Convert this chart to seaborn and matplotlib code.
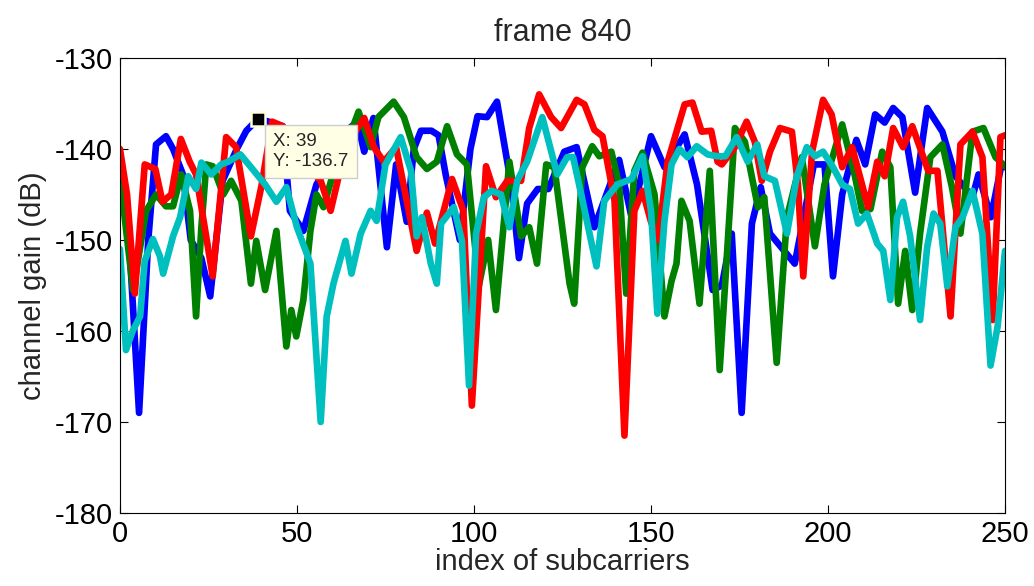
import matplotlib
matplotlib.use("Agg")
import matplotlib.pyplot as plt
import seaborn as sns
import pandas as pd

blue_x = [0, 2, 5.4, 8, 10.2, 13, 15, 17.8, 20, 23, 25.5, 29, 33, 35.7, 39, 42, 46, 48, 51.8, 55.5, 60, 64, 67, 69, 71.6, 75.4, 78, 81, 83, 85, 88, 90, 92, 96, 99, 101, 103.7, 106.5, 110.5, 112.7, 115, 118, 121, 125.5, 129, 134, 141, 144.5, 150, 153.8, 159.5, 163, 167.4, 170, 172.8, 175.6, 178.5, 181, 183.6, 190.6, 196, 199, 201.4, 204, 208, 210.5, 213.3, 216, 218.4, 221, 224.6, 228, 232.3, 236, 240.8, 242.5, 246, 249, 250]
blue_y = [-143, -146, -169, -150, -139.5, -138.6, -140, -142.8, -150, -152, -156.2, -143.5, -140, -138, -136.7, -137, -137.5, -146.8, -149, -143.9, -141, -138, -137, -140.3, -136.6, -150.8, -141.7, -148, -140, -138, -138, -138.5, -142.8, -150, -140, -136.4, -136.5, -134.8, -143.9, -152, -146, -144.4, -144.4, -140.3, -139.8, -148.6, -141.2, -147.5, -138.6, -142, -138.4, -143.9, -155.5, -155, -149.3, -169, -148.2, -144.2, -149.3, -152.6, -141.7, -141.7, -154, -145, -139, -141.7, -136.2, -137.1, -135.5, -136.5, -144.8, -135.5, -138.1, -143, -145.3, -142.8, -147.5, -141.7, -142]

green_x = [0, 3.7, 7.4, 10.2, 13, 15, 17.3, 19.8, 21.5, 23, 24.4, 26.2, 29.2, 31.4, 34.3, 37, 38.5, 41, 44.2, 47, 48.4, 49.8, 51.8, 53.8, 55.5, 57.5, 60, 62, 65, 67.4, 70.8, 73, 77.3, 80.2, 83.8, 86.7, 89.5, 92.4, 95.2, 98, 101.4, 104, 106.2, 110, 113.3, 115.6, 117.8, 120.4, 122.7, 127, 128.3, 130.6, 133.4, 135.4, 138.8, 141, 143, 145.3, 147.6, 151, 153.8, 155.8, 157.2, 158.6, 160.9, 163.7, 166.6, 169.4, 173.7, 176.5, 180.2, 182, 185.5, 188.4, 192.6, 196.3, 199, 204, 207.6, 209.6, 212, 215.3, 217.6, 219.8, 221.8, 223.8, 226, 228.9, 232.3, 235, 237.4, 240.8, 243.9, 247.3, 250]
green_y = [-143, -155.5, -146.8, -145, -146.3, -146.3, -142.8, -146.8, -158.4, -148.6, -141.7, -141.9, -145, -143.5, -145.7, -154.8, -150.1, -155.5, -149, -161.7, -157.7, -160.6, -156.6, -149, -145, -146.4, -143, -139, -138.4, -135.9, -139.8, -136.5, -134.8, -136.5, -140.9, -142.2, -141.4, -137.5, -140.6, -141.7, -155, -150, -157.7, -141.4, -149.6, -148.6, -152.6, -141.7, -142, -154.8, -157, -142, -139.7, -140.8, -140.3, -143.9, -155.9, -142.4, -140.4, -145, -158.4, -154.5, -152.6, -145.7, -147.9, -157, -142.4, -164.3, -137.7, -139.2, -146.4, -145.3, -163.5, -147.5, -140.9, -150.7, -143.9, -137.3, -143, -146.8, -146.6, -140.3, -142, -157, -151.2, -157.7, -149.3, -140.9, -139.5, -144.2, -149.3, -138.1, -137.7, -140.9, -141.9]

red_x = [0, 2, 4.2, 7, 10, 12, 14.5, 17.2, 19.7, 21.5, 26.2, 30, 32.8, 37, 40, 43, 46, 50, 53, 56.7, 59.5, 63, 66, 69, 71.7, 74.5, 78, 83.8, 86.7, 89, 93.8, 97, 99.4, 103.4, 106.2, 109.4, 113.3, 115.6, 118.4, 121.8, 124.6, 129, 131.2, 134, 136.3, 139.7, 142.5, 145.3, 147.6, 150, 152, 154.7, 159.5, 161.7, 164.3, 167, 168.8, 170, 173.7, 177, 179.3, 181.3, 183.6, 186.4, 189.8, 191.5, 193, 195.5, 198.6, 201, 204, 206.8, 211.3, 213.9, 216, 218.4, 221.2, 223.8, 228.3, 230.9, 234.6, 237.4, 240.8, 243.6, 246.5, 248.7, 250]
red_y = [-140, -145, -155.9, -141.7, -142.2, -145.8, -145, -138.9, -141.4, -142.8, -154, -138.7, -139.8, -149.6, -144, -137, -137.5, -140, -142, -143.5, -146.8, -141, -138.4, -136.6, -139.8, -141.4, -139.8, -151.2, -147, -150.4, -143.3, -146.8, -168.2, -141.9, -145.3, -143.5, -143.5, -137.7, -134, -136.5, -137.7, -134.6, -135.1, -137.9, -138.6, -145.7, -171.5, -146.8, -144.6, -148, -150, -141.4, -135.1, -134.9, -138.1, -138, -141.4, -141.7, -139.8, -137, -139.2, -143.5, -140.3, -137.7, -138.1, -143.9, -154, -140.3, -134.6, -136.2, -142, -139.8, -146.4, -141.4, -143, -137.7, -139.8, -137.5, -142.4, -142.4, -158.4, -139.5, -138.1, -140.9, -158.8, -138.7, -138.5]

cyan_x = [0, 1.7, 3.7, 5.7, 7, 9.3, 11.3, 12.2, 15, 17, 19.3, 21.5, 23, 25.8, 28.6, 30.6, 34, 37, 41, 44.2, 47, 50, 53.8, 56.7, 58.4, 60.3, 63.7, 65.4, 68, 70.8, 72.5, 75, 79.3, 82.2, 83.8, 85.3, 87.8, 89.5, 90.7, 94.3, 96.6, 98.6, 100.6, 102.8, 105, 107.6, 110, 112.2, 115, 119.3, 123.5, 126.3, 128, 130.3, 134.6, 136.8, 140.5, 144.5, 147.6, 150, 151.8, 153.8, 155.8, 158, 160.3, 162.9, 166, 168.8, 171, 174.2, 177.3, 180, 182, 185, 188.4, 191.2, 194, 196.3, 198.6, 201.4, 204, 206.2, 208.5, 211, 213.9, 215.6, 217.6, 219.5, 221.2, 223.2, 226, 228, 229.8, 231.7, 233.7, 236, 238, 240.8, 243.6, 245.9, 247.9, 250]
cyan_y = [-151, -162.1, -159.9, -158.4, -152.3, -149.9, -151.8, -153.7, -149.6, -147.5, -143, -144.4, -141.5, -142.8, -141.7, -141.4, -140.6, -142, -143.9, -145.8, -144.2, -148.6, -152.6, -170, -158.4, -154.8, -150.1, -153.7, -149.3, -146.8, -147.9, -141.7, -138.7, -142.4, -149.6, -147.5, -152.6, -154.8, -148.2, -146.4, -150.1, -166, -149.3, -145.3, -144.6, -145, -148.6, -143.5, -141.4, -136.5, -142.8, -140.9, -140.9, -145, -152.9, -145.7, -143.9, -143.3, -140.8, -146.8, -158.1, -147.9, -141.7, -140, -140.9, -139.7, -140.6, -140.8, -140.8, -138.7, -141.4, -139.5, -143, -143.5, -149.3, -143, -139.8, -140.8, -140.3, -142, -143.9, -144.4, -148.2, -147.1, -150.4, -151.2, -156.6, -147.5, -145.8, -149.6, -158.8, -150.8, -147.1, -148.2, -155.1, -148.6, -147.5, -144.6, -149.3, -163.8, -159.5, -151.2]

series_names = ["s1", "s2", "s3", "s4"]
series_colors = ["#0000ff", "#008000", "#ff0000", "#00bfbf"]
tip_x, tip_y = 39, -136.7

frames = []
for name, xs, ys in zip(series_names, [blue_x, green_x, red_x, cyan_x], [blue_y, green_y, red_y, cyan_y]):
    frames.append(pd.DataFrame({"x": xs, "y": ys, "s": name}))
df = pd.concat(frames, ignore_index=True)

sns.set_theme(style="white")
plt.rcParams['font.family'] = ['Liberation Sans', 'DejaVu Sans']
plt.rcParams['axes.unicode_minus'] = False

fig = plt.figure(figsize=(10.34, 5.86), dpi=100)
ax = fig.add_axes([0.116, 0.1246, 0.856, 0.7765])

sns.lineplot(data=df, x="x", y="y", hue="s", palette=dict(zip(series_names, series_colors)),
             estimator=None, sort=False, linewidth=4.8, legend=False, ax=ax,
             solid_joinstyle='round', solid_capstyle='round')

ax.set_xlim(0, 250)
ax.set_ylim(-180, -130)
ax.set_xticks([0, 50, 100, 150, 200, 250])
ax.set_yticks([-180, -170, -160, -150, -140, -130])
ax.tick_params(direction='in', length=6, width=0.8, labelsize=21, colors='black',
               top=True, right=True, bottom=True, left=True, pad=5)
for sp in ax.spines.values():
    sp.set_color('black')
    sp.set_linewidth(0.8)

ax.set_title("frame 840", fontsize=22, pad=12)
ax.set_xlabel("index of subcarriers", fontsize=21, labelpad=0)
ax.set_ylabel("channel gain (dB)", fontsize=21, labelpad=6)

# data tip
ax.plot([tip_x], [tip_y], marker='s', markersize=10, color='black',
        markeredgecolor='#ffffe0', markeredgewidth=1.8, zorder=10)
ax.annotate("X: 39\nY: -136.7", xy=(tip_x, tip_y), xytext=(11, -10), textcoords='offset points',
            ha='left', va='top', fontsize=13.5, linespacing=1.25, zorder=11,
            bbox=dict(boxstyle='square,pad=0.42', fc='#ffffe6', ec='#cccccc', lw=1))

fig.savefig("out.png", dpi=100)
